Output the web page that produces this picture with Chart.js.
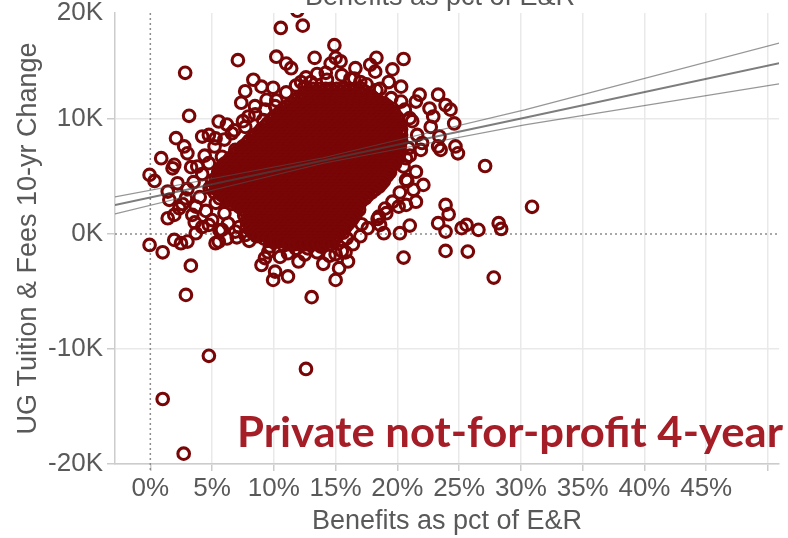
<!DOCTYPE html>
<html>
<head>
<meta charset="utf-8">
<script src="https://cdn.jsdelivr.net/npm/chart.js@4.4.1/dist/chart.umd.min.js"></script>
<style>
  html, body { margin: 0; padding: 0; background: #ffffff; }
  #c { display: block; }
</style>
</head>
<body>
<canvas id="c" width="788" height="538"></canvas>
<script>
// ---------------- DATA ----------------
// x = Benefits as pct of E&R (%), y = UG Tuition & Fees 10-yr Change (thousands $)
const xTickValues = [0, 5, 10, 15, 20, 25, 30, 35, 40, 45, 50];
const xTickLabels = ['0%', '5%', '10%', '15%', '20%', '25%', '30%', '35%', '40%', '45%', ''];
const yTickValues = [-20, -10, 0, 10, 19.2];
const yTickLabels = ['-20K', '-10K', '0K', '10K', '20K'];

// scattered institutions outside the dense core
const outlierPoints = [
  [11.9,19.4],[10.56,17.9],[12.34,18.1],[7.09,15.1],[2.82,14.0],[10.2,15.4],[11.0,14.8],[11.4,14.4],
  [13.3,15.3],[8.34,13.4],[9.0,12.8],[9.94,12.7],[7.68,12.4],[7.36,11.4],[8.47,11.1],[9.41,11.65],
  [10.1,11.1],[12.2,13.2],[12.5,12.8],[3.14,10.26],[2.08,8.32],[2.74,7.6],[0.88,6.58],[1.94,6.0],
  [3.0,7.0],[4.2,8.46],[4.74,8.6],[5.54,9.77],[6.2,9.5],[6.6,8.75],[5.28,8.3],[3.8,5.85],[4.74,6.15],
  [5.8,6.7],[6.88,7.3],[7.68,9.3],[7.94,10.2],[9.14,9.9],
  [-0.06,5.13],[0.34,4.6],[1.8,5.7],[1.41,3.68],[3.0,3.9],[1.54,2.96],[1.41,1.36],[1.94,1.65],
  [2.34,2.23],[3.4,1.65],[-0.06,-0.96],[1.0,-1.6],[1.94,-0.52],[2.48,-0.81],[3.0,-0.67],[3.28,-2.76],
  [2.88,-5.3],[3.68,0.06],[5.28,-0.81],[5.54,-0.67],[4.74,0.78],[7.68,-0.09],[9.0,-2.7],[9.28,-2.1],
  [9.54,-1.6],[9.68,-1.1],[10.1,-3.28],[9.94,-4.0],[11.14,-3.7],[11.14,-1.68],[12.74,-1.25],[13.06,-5.5],
  [6.88,0.2],[5.8,0.35],[3.68,2.37],[2.88,3.1],
  [4.74,-10.6],[1.0,-14.35],[2.7,-19.1],[12.6,-11.74],
  [15.0,-4.0],[15.28,-2.98],[15.0,-1.77],[15.8,-1.6],[13.8,-1.1],[13.0,-0.96],[20.5,-2.06],[21.0,0.72],
  [20.2,0.06],[18.9,0.06],[18.6,0.78],[17.1,0.84],[23.9,-1.48],[25.7,-1.54],[27.8,-3.8],[23.3,0.93],
  [23.9,0.2],[23.9,2.52],[24.15,1.71],[25.2,0.5],[25.6,0.78],[26.56,0.35],[28.2,0.93],[28.4,0.43],
  [22.1,4.26],[21.5,2.8],[20.7,2.52],[20.1,2.37],[20.7,4.7],[21.3,3.83],[19.1,1.8],[18.5,1.5],
  [30.9,2.35],[14.9,-0.52],[15.9,-0.38],
  [14.9,16.4],[15.0,15.3],[15.4,15.0],[14.6,14.8],[16.6,14.4],[18.3,15.3],[17.8,14.7],[18.2,14.1],
  [20.5,15.2],[19.6,14.3],[17.0,13.2],[19.3,13.2],[20.3,12.8],[18.3,12.5],[16.2,13.5],[14.3,13.4],
  [13.0,13.2],[21.8,12.1],[23.3,12.1],[21.5,11.5],[22.6,10.9],[23.9,11.2],[24.3,10.8],[24.6,9.6],
  [22.9,10.2],[21.0,10.06],[20.3,11.5],[22.7,9.3],[23.4,8.46],[23.3,7.6],[24.7,7.6],[24.9,7.0],
  [23.5,7.3],[21.9,7.3],[20.9,7.45],[20.7,6.58],[20.5,5.85],[27.1,5.9],
  [3.5,4.5],[4.2,5.2],[4.0,3.2],[4.5,2.0],[5.0,1.2],[4.2,0.6],[5.6,0.3],[6.3,0.9],[6.0,1.8],[5.3,2.7],
  [3.6,1.0],[2.6,2.6],[4.8,4.0],[6.2,-0.4],[7.2,0.6],[7.0,-0.3],[8.0,-0.6],[8.6,-0.2],[2.2,4.4],
  [3.3,5.8],[4.4,6.8],[5.2,7.6],[6.0,8.2],[6.8,9.0],[7.5,9.8],[8.5,10.4],[9.3,10.8],[10.2,11.6],
  [11.0,12.3],[11.8,12.9],[12.6,13.6],[13.5,13.9],[14.2,14.0],[15.5,13.8],[16.5,13.5],[17.5,13.0],
  [18.6,12.6],[19.5,11.8],[20.6,10.8],[21.2,9.8],[21.6,8.6],[22.0,7.9],[21.0,6.8],[21.5,5.4],
  [20.8,4.6],[20.2,3.6],[19.6,2.8],[19.0,2.2],[18.4,1.3],[17.6,0.5],[17.0,-0.2],[16.4,-0.9],
  [15.5,-1.5],[14.5,-1.9],[13.5,-1.6],[12.5,-1.8],[11.8,-1.3],[10.8,-1.0],[9.8,-0.6],[16.0,-2.4],
  [14.0,-2.6],[12.0,-2.4],[10.5,-2.0]
];

// dense core (solid in the picture): each row = [y, [x values]]
const clusterRows = [
  [12.6, [13.2,13.7,14.2,14.6,15.1,15.6,16.1,16.6,17.1]],
  [12.35, [12.9,13.4,13.9,14.4,14.9,15.4,15.9,16.4,16.9,17.4]],
  [12.1, [12.4,12.9,13.4,13.9,14.3,14.8,15.3,15.8,16.2,16.7,17.2,17.7]],
  [11.85, [12.0,12.5,13.0,13.5,14.0,14.5,15.0,15.5,16.0,16.5,17.0,17.5,18.0]],
  [11.6, [11.7,12.2,12.7,13.1,13.6,14.1,14.6,15.0,15.5,16.0,16.5,16.9,17.4,17.9,18.4]],
  [11.35, [11.4,11.9,12.4,12.9,13.4,13.9,14.4,14.9,15.4,15.9,16.4,16.9,17.4,17.9,18.4,18.9]],
  [11.1, [11.1,11.6,12.1,12.5,13.0,13.5,14.0,14.4,14.9,15.4,15.9,16.3,16.8,17.3,17.8,18.2,18.7,19.2]],
  [10.85, [10.8,11.3,11.8,12.3,12.8,13.3,13.8,14.3,14.8,15.3,15.8,16.3,16.8,17.3,17.8,18.3,18.8,19.3]],
  [10.6, [10.5,11.0,11.5,11.9,12.4,12.9,13.4,13.8,14.3,14.8,15.3,15.7,16.2,16.7,17.2,17.6,18.1,18.6,19.1,19.6]],
  [10.35, [10.3,10.8,11.3,11.8,12.2,12.7,13.2,13.7,14.1,14.6,15.1,15.6,16.0,16.5,17.0,17.5,17.9,18.4,18.9,19.4,19.8]],
  [10.1, [10.0,10.5,11.0,11.4,11.9,12.4,12.9,13.3,13.8,14.3,14.8,15.2,15.7,16.2,16.7,17.1,17.6,18.1,18.6,19.0,19.5,20.0]],
  [9.85, [9.8,10.3,10.7,11.2,11.7,12.2,12.6,13.1,13.6,14.1,14.5,15.0,15.5,16.0,16.4,16.9,17.4,17.9,18.3,18.8,19.3,19.8]],
  [9.6, [9.5,10.0,10.4,10.9,11.4,11.9,12.3,12.8,13.3,13.8,14.2,14.7,15.2,15.7,16.1,16.6,17.1,17.6,18.0,18.5,19.0,19.5,20.0]],
  [9.35, [9.3,9.8,10.2,10.7,11.2,11.7,12.1,12.6,13.1,13.6,14.0,14.5,15.0,15.5,15.9,16.4,16.9,17.4,17.8,18.3,18.8,19.3,19.7,20.1]],
  [9.1, [9.0,9.5,9.9,10.4,10.9,11.4,11.8,12.3,12.8,13.3,13.7,14.2,14.7,15.2,15.6,16.1,16.6,17.1,17.5,18.0,18.5,19.0,19.4,19.9,20.3]],
  [8.85, [8.8,9.3,9.7,10.2,10.7,11.2,11.6,12.1,12.6,13.1,13.5,14.0,14.5,15.0,15.4,15.9,16.4,16.9,17.3,17.8,18.3,18.8,19.2,19.7,20.2]],
  [8.6, [8.5,9.0,9.4,9.9,10.4,10.9,11.3,11.8,12.3,12.8,13.2,13.7,14.2,14.7,15.1,15.6,16.1,16.6,17.0,17.5,18.0,18.5,18.9,19.4,19.9,20.3]],
  [8.35, [8.3,8.8,9.2,9.7,10.2,10.7,11.1,11.6,12.1,12.6,13.0,13.5,14.0,14.5,14.9,15.4,15.9,16.4,16.8,17.3,17.8,18.3,18.7,19.2,19.7,20.1]],
  [8.1, [8.0,8.5,8.9,9.4,9.9,10.4,10.8,11.3,11.8,12.3,12.7,13.2,13.7,14.2,14.6,15.1,15.6,16.1,16.5,17.0,17.5,18.0,18.4,18.9,19.4,19.9,20.3]],
  [7.85, [7.8,8.3,8.7,9.2,9.7,10.2,10.6,11.1,11.6,12.1,12.5,13.0,13.5,14.0,14.4,14.9,15.4,15.9,16.3,16.8,17.3,17.8,18.2,18.7,19.2,19.7,20.1]],
  [7.6, [7.5,8.0,8.4,8.9,9.4,9.9,10.3,10.8,11.3,11.8,12.2,12.7,13.2,13.7,14.1,14.6,15.1,15.6,16.0,16.5,17.0,17.5,17.9,18.4,18.9,19.4,19.8,20.2]],
  [7.35, [7.3,7.8,8.2,8.7,9.2,9.7,10.1,10.6,11.1,11.6,12.0,12.5,13.0,13.5,13.9,14.4,14.9,15.4,15.8,16.3,16.8,17.3,17.7,18.2,18.7,19.2,19.6,20.0]],
  [7.1, [7.0,7.5,7.9,8.4,8.9,9.4,9.8,10.3,10.8,11.3,11.7,12.2,12.7,13.2,13.6,14.1,14.6,15.1,15.5,16.0,16.5,17.0,17.4,17.9,18.4,18.9,19.3,19.8,20.2]],
  [6.85, [6.8,7.3,7.7,8.2,8.7,9.2,9.6,10.1,10.6,11.1,11.5,12.0,12.5,13.0,13.4,13.9,14.4,14.9,15.3,15.8,16.3,16.8,17.2,17.7,18.2,18.7,19.1,19.6,20.0]],
  [6.6, [6.5,7.0,7.4,7.9,8.4,8.9,9.3,9.8,10.3,10.8,11.2,11.7,12.2,12.7,13.1,13.6,14.1,14.6,15.0,15.5,16.0,16.5,16.9,17.4,17.9,18.4,18.8,19.3,19.8,20.1]],
  [6.35, [6.3,6.8,7.2,7.7,8.2,8.7,9.1,9.6,10.1,10.6,11.0,11.5,12.0,12.5,12.9,13.4,13.9,14.4,14.8,15.3,15.8,16.3,16.7,17.2,17.7,18.2,18.6,19.1,19.6,19.9]],
  [6.1, [6.0,6.5,6.9,7.4,7.9,8.4,8.8,9.3,9.8,10.3,10.7,11.2,11.7,12.2,12.6,13.1,13.6,14.1,14.5,15.0,15.5,16.0,16.4,16.9,17.4,17.9,18.3,18.8,19.3,19.8]],
  [5.85, [5.8,6.3,6.7,7.2,7.7,8.2,8.6,9.1,9.6,10.1,10.5,11.0,11.5,12.0,12.4,12.9,13.4,13.9,14.3,14.8,15.3,15.8,16.2,16.7,17.2,17.7,18.1,18.6,19.1,19.5]],
  [5.6, [5.6,6.0,6.5,7.0,7.5,7.9,8.4,8.9,9.4,9.8,10.3,10.8,11.3,11.7,12.2,12.7,13.2,13.6,14.1,14.6,15.1,15.5,16.0,16.5,17.0,17.4,17.9,18.4,18.9,19.4]],
  [5.35, [5.5,6.2,6.7,7.1,7.6,8.1,8.6,9.0,9.5,10.0,10.5,10.9,11.4,11.9,12.4,12.8,13.3,13.8,14.3,14.7,15.2,15.7,16.2,16.6,17.1,17.6,18.1,18.5,19.0,19.4]],
  [5.1, [5.5,6.0,6.4,6.9,7.4,7.9,8.3,8.8,9.3,9.8,10.2,10.7,11.2,11.7,12.1,12.6,13.1,13.6,14.0,14.5,15.0,15.5,15.9,16.4,16.9,17.4,17.8,18.3,18.8,19.2]],
  [4.85, [5.3,5.8,6.3,6.8,7.2,7.7,8.2,8.7,9.1,9.6,10.1,10.6,11.0,11.5,12.0,12.5,12.9,13.4,13.9,14.4,14.8,15.3,15.8,16.3,16.7,17.2,17.7,18.2,18.6,19.0]],
  [4.6, [5.0,5.6,6.1,6.5,7.0,7.5,8.0,8.4,8.9,9.4,9.9,10.3,10.8,11.3,11.8,12.2,12.7,13.2,13.7,14.1,14.6,15.1,15.6,16.0,16.5,17.0,17.5,17.9,18.4,18.9]],
  [4.35, [5.3,5.9,6.4,6.8,7.3,7.8,8.3,8.7,9.2,9.7,10.2,10.6,11.1,11.6,12.1,12.5,13.0,13.5,14.0,14.4,14.9,15.4,15.9,16.3,16.8,17.3,17.8,18.2,18.7]],
  [4.1, [5.0,5.7,6.2,6.6,7.1,7.6,8.1,8.5,9.0,9.5,10.0,10.4,10.9,11.4,11.9,12.3,12.8,13.3,13.8,14.2,14.7,15.2,15.7,16.1,16.6,17.1,17.6,18.0,18.5]],
  [3.85, [5.4,5.9,6.3,6.8,7.3,7.7,8.2,8.7,9.1,9.6,10.1,10.6,11.0,11.5,12.0,12.5,12.9,13.4,13.9,14.4,14.8,15.3,15.8,16.3,16.7,17.2,17.7,18.2]],
  [3.6, [5.2,5.6,6.0,6.5,7.0,7.4,7.9,8.4,8.9,9.3,9.8,10.3,10.8,11.2,11.7,12.2,12.7,13.1,13.6,14.1,14.6,15.0,15.5,16.0,16.5,16.9,17.4,17.9]],
  [3.35, [5.8,6.3,6.8,7.2,7.7,8.2,8.6,9.1,9.6,10.1,10.5,11.0,11.5,12.0,12.4,12.9,13.4,13.9,14.3,14.8,15.3,15.8,16.2,16.7,17.2,17.6]],
  [3.1, [5.6,6.1,6.5,7.0,7.4,7.9,8.4,8.9,9.3,9.8,10.3,10.8,11.2,11.7,12.2,12.7,13.1,13.6,14.1,14.6,15.0,15.5,16.0,16.5,16.9,17.4]],
  [2.85, [6.2,6.7,7.2,7.7,8.1,8.6,9.1,9.6,10.0,10.5,11.0,11.5,11.9,12.4,12.9,13.4,13.8,14.3,14.8,15.3,15.7,16.2,16.7,17.1]],
  [2.6, [6.6,7.0,7.5,7.9,8.4,8.9,9.4,9.8,10.3,10.8,11.3,11.7,12.2,12.7,13.2,13.6,14.1,14.6,15.1,15.5,16.0,16.5,16.9]],
  [2.35, [7.2,7.7,8.2,8.6,9.1,9.6,10.1,10.5,11.0,11.5,12.0,12.4,12.9,13.4,13.9,14.3,14.8,15.3,15.8,16.2,16.7]],
  [2.1, [7.5,8.0,8.4,8.9,9.4,9.9,10.3,10.8,11.3,11.8,12.2,12.7,13.2,13.7,14.1,14.6,15.1,15.6,16.0,16.5,16.9]],
  [1.85, [7.8,8.3,8.7,9.2,9.7,10.2,10.6,11.1,11.6,12.1,12.5,13.0,13.5,14.0,14.4,14.9,15.4,15.9,16.3,16.7]],
  [1.6, [7.6,8.1,8.5,9.0,9.5,10.0,10.4,10.9,11.4,11.9,12.3,12.8,13.3,13.8,14.2,14.7,15.2,15.7,16.1,16.5]],
  [1.35, [7.9,8.4,8.8,9.3,9.8,10.3,10.7,11.2,11.7,12.2,12.6,13.1,13.6,14.1,14.5,15.0,15.5,16.0,16.4]],
  [1.1, [7.8,8.1,8.6,9.0,9.5,10.0,10.5,10.9,11.4,11.9,12.4,12.8,13.3,13.8,14.3,14.7,15.2,15.7,16.2]],
  [0.85, [8.0,8.4,8.9,9.3,9.8,10.3,10.8,11.2,11.7,12.2,12.7,13.1,13.6,14.1,14.6,15.0,15.5,16.0]],
  [0.6, [7.8,8.2,8.6,9.1,9.5,10.0,10.5,11.0,11.4,11.9,12.4,12.9,13.3,13.8,14.3,14.8,15.2,15.8]],
  [0.35, [8.1,8.5,9.0,9.4,9.9,10.3,10.8,11.3,11.7,12.2,12.7,13.2,13.6,14.1,14.6,15.1,15.5]],
  [0.1, [8.3,8.7,9.1,9.6,10.0,10.5,11.0,11.5,11.9,12.4,12.9,13.4,13.8,14.3,14.8,15.3,15.6]],
  [-0.15, [8.8,9.4,9.8,10.3,10.8,11.3,11.7,12.2,12.7,13.2,13.6,14.1,14.6,15.1]],
  [-0.4, [9.2,9.6,10.1,10.6,11.0,11.5,12.0,12.5,12.9,13.4,13.9,14.4,14.9]],
  [-0.65, [10.2,10.7,11.2,11.6,12.1,12.6,13.1,13.5,14.0,14.5,14.8]],
  [-0.9, [11.2,11.7,12.1,12.6,13.1,13.6,14.0,14.5]]
];

// linear trend line and its confidence band, read at a few x positions
const trendX     = [-2.86, 14.0, 30.3, 50.9];
const trendFit   = [2.52, 6.38, 10.09, 14.84];
const trendUpper = [3.22, 6.62, 10.78, 16.58];
const trendLower = [1.74, 6.14, 9.48, 13.04];

// ---------------- BUILD ----------------
const scatterData = outlierPoints.map(p => ({ x: p[0], y: p[1] }))
  .concat(clusterRows.flatMap(r => r[1].map(x => ({ x: x, y: r[0] }))));
const lineData = arr => trendX.map((x, i) => ({ x: x, y: arr[i] }));

const AXIS_FONT = 'Liberation Sans, Arial, sans-serif';
const TEXT_GRAY = '#595959';
const MAROON = '#780606';

const overlayText = {
  id: 'overlayText',
  beforeDatasetsDraw(chart) {
    const { ctx, chartArea: a, scales: { x, y } } = chart;
    const px = x.getPixelForValue(0), py = y.getPixelForValue(0);
    ctx.save();
    ctx.strokeStyle = '#8c8c8c';
    ctx.lineWidth = 1.5;
    ctx.setLineDash([2, 3]);
    ctx.beginPath();
    ctx.moveTo(px, a.top); ctx.lineTo(px, a.bottom + 7);
    ctx.moveTo(a.left, py); ctx.lineTo(a.right, py);
    ctx.stroke();
    ctx.restore();
  },
  afterDraw(chart) {
    const { ctx } = chart;
    ctx.save();
    // cut-off top axis title
    ctx.font = '27px ' + AXIS_FONT;
    ctx.fillStyle = TEXT_GRAY;
    ctx.textAlign = 'center';
    ctx.textBaseline = 'alphabetic';
    ctx.fillText('Benefits as pct of E&R', 440, 5);
    // big annotation
    const txt = 'Private not-for-profit 4-year';
    ctx.font = 'bold 42px Lato, "Open Sans", sans-serif';
    ctx.fillStyle = '#a51d26';
    ctx.textAlign = 'left';
    const w = ctx.measureText(txt).width;
    const target = 546;
    ctx.translate(237, 447);
    ctx.scale(target / w, 1);
    ctx.fillText(txt, 0, 0);
    ctx.restore();
  }
};

new Chart(document.getElementById('c'), {
  type: 'scatter',
  data: {
    datasets: [
      { type: 'line', label: 'Trend', data: lineData(trendFit), borderColor: 'rgba(70,70,70,0.7)',
        borderWidth: 2, pointRadius: 0, fill: false, order: 0 },
      { type: 'line', label: 'Upper', data: lineData(trendUpper), borderColor: 'rgba(80,80,80,0.6)',
        borderWidth: 1.2, pointRadius: 0, fill: false, order: 0 },
      { type: 'line', label: 'Lower', data: lineData(trendLower), borderColor: 'rgba(80,80,80,0.6)',
        borderWidth: 1.2, pointRadius: 0, fill: false, order: 0 },
      { label: 'Institutions', data: scatterData, pointRadius: 5.8, pointHoverRadius: 5.8,
        borderWidth: 3.1, borderColor: MAROON, backgroundColor: 'rgba(0,0,0,0)', order: 1 }
    ]
  },
  options: {
    responsive: false,
    animation: false,
    events: [],
    layout: { padding: { top: 13, right: 1, left: 0, bottom: 0 } },
    plugins: { legend: { display: false }, tooltip: { enabled: false } },
    scales: {
      x: {
        type: 'linear', min: -2.86, max: 50.9,
        afterBuildTicks: s => { s.ticks = xTickValues.map(v => ({ value: v })); },
        afterFit: s => { s.height = 74; s.paddingLeft = 0; s.paddingRight = 0; },
        ticks: {
          autoSkip: false, maxRotation: 0, padding: 2,
          font: { family: AXIS_FONT, size: 26 }, color: TEXT_GRAY,
          callback: (v, i) => xTickLabels[i]
        },
        grid: {
          color: c => (c.tick && c.tick.value === 0) ? 'rgba(0,0,0,0)' : '#e9e9e9',
          lineWidth: 1.5, tickLength: 7, tickColor: '#cccccc'
        },
        border: { color: '#cccccc', width: 1.5 },
        title: { display: true, text: 'Benefits as pct of E&R', color: TEXT_GRAY,
          font: { family: AXIS_FONT, size: 27 }, padding: { top: 0, bottom: 0 } }
      },
      y: {
        type: 'linear', min: -20, max: 19.2,
        afterBuildTicks: s => { s.ticks = yTickValues.map(v => ({ value: v })); },
        afterFit: s => { s.width = 115; s.paddingTop = 0; s.paddingBottom = 0; },
        ticks: {
          autoSkip: false, padding: 4,
          font: { family: AXIS_FONT, size: 26 }, color: TEXT_GRAY,
          callback: (v, i) => yTickLabels[i]
        },
        grid: {
          color: c => (c.tick && (c.tick.value === 0 || c.tick.value === 19.2)) ? 'rgba(0,0,0,0)' : '#e9e9e9',
          tickColor: c => (c.tick && c.tick.value === 19.2) ? 'rgba(0,0,0,0)' : '#cccccc',
          lineWidth: 1.5, tickLength: 8
        },
        border: { color: '#cccccc', width: 1.5 },
        title: { display: true, text: 'UG Tuition & Fees 10-yr Change', color: TEXT_GRAY,
          font: { family: AXIS_FONT, size: 27 }, padding: { top: 12, bottom: 0 } }
      }
    }
  },
  plugins: [overlayText]
});
</script>
</body>
</html>
